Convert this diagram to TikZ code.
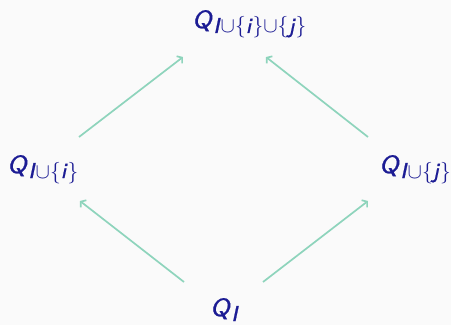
\RequirePackage{fix-cm}
\documentclass[tikz,border=0pt]{standalone}
\usepackage{amsmath}
\usepackage{fontspec}
\setsansfont{lmsans8-regular.otf}[ItalicFont=lmsans8-oblique.otf,ItalicFeatures={FakeBold=0.8}]
\usetikzlibrary{arrows.meta}
\definecolor{bgc}{HTML}{FAFAFA}
\definecolor{txt}{HTML}{1C1C94}
\definecolor{arc}{HTML}{8ED4BC}
\newcommand{\sv}[1]{\textsf{\itshape #1}}
\newcommand{\un}{$\mathord{\cup}$}
\newcommand{\lb}{$\mathord{\{}$}
\newcommand{\rb}{$\mathord{\}}$}
\newcommand{\sbs}[1]{\raisebox{-5pt}{\fontsize{21.5}{24}\selectfont #1}}
\begin{document}
\begin{tikzpicture}[x=1pt,y=1pt,
  lab/.style={anchor=base west,inner sep=0pt,text=txt,font=\fontsize{25}{28}\selectfont},
  arr/.style={draw=arc,line width=1.7pt,-{Straight Barb[length=3.5pt,width=9pt]}}]
\fill[bgc] (0,0) rectangle (451,325);
\useasboundingbox (0,0) rectangle (451,325);
\node[lab] (t) at (192,297) {\sv{Q}\sbs{\sv{I}\un\lb\sv{i}\rb\un\lb\sv{j}\rb}};
\node[lab] (l) at (7,152) {\sv{Q}\sbs{\sv{I}\un\lb\sv{i}\rb}};
\node[lab] (r) at (379,152) {\sv{Q}\sbs{\sv{I}\un\lb\sv{j}\rb}};
\node[lab] (b) at (210,9) {\sv{Q}\sbs{\sv{I}}};
\coordinate (bl0) at (184,43);
\coordinate (bl1) at (80,124);
\coordinate (br0) at (263,43);
\coordinate (br1) at (368,124);
\coordinate (lt0) at (79,188);
\coordinate (lt1) at (183,268);
\coordinate (rt0) at (368,188);
\coordinate (rt1) at (266,268);
\draw[arr] (bl0) -- (bl1);
\draw[arr] (br0) -- (br1);
\draw[arr] (lt0) -- (lt1);
\draw[arr] (rt0) -- (rt1);
\end{tikzpicture}
\end{document}
